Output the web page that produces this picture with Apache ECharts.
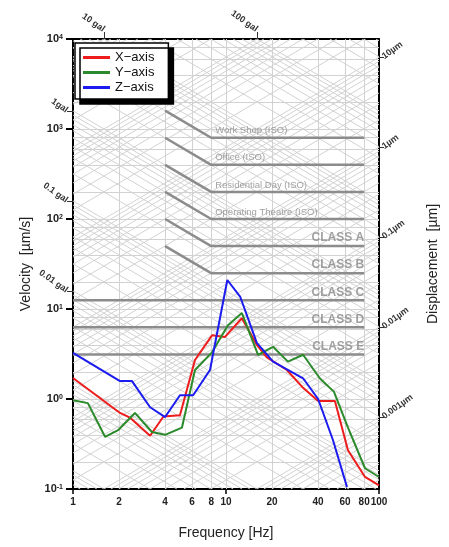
<!DOCTYPE html>
<html>
<head>
<meta charset="utf-8">
<script src="https://cdn.jsdelivr.net/npm/echarts@6/dist/echarts.min.js"></script>
<style>
  html, body { margin: 0; padding: 0; background: #fff; }
  #chart { width: 449px; height: 547px; }
</style>
</head>
<body>
<div id="chart"></div>
<script>
// spectra: [frequency Hz, velocity µm/s]
const xAxisSpec = [[1, 1.71], [2.03, 0.70], [2.36, 0.62], [3.19, 0.39], [3.9, 0.64], [5.0, 0.66], [6.27, 2.71], [8.1, 5.1], [9.85, 4.9], [12.7, 7.9], [15.9, 4.0], [18.5, 2.9], [25, 2.1], [31.9, 1.33], [40, 0.95], [51.5, 0.95], [62.7, 0.27], [81, 0.136], [100, 0.11]]
const yAxisSpec = [[1, 0.97], [1.25, 0.90], [1.62, 0.38], [1.97, 0.45], [2.54, 0.70], [3.28, 0.43], [4.0, 0.40], [5.15, 0.48], [6.27, 2.1], [8.1, 3.3], [10.3, 6.6], [12.7, 9.0], [16.2, 3.1], [20.3, 3.8], [25.4, 2.6], [31.9, 3.1], [41, 1.7], [50.8, 1.2], [62.7, 0.48], [81, 0.17], [100, 0.136]]
const zAxisSpec = [[1, 3.25], [2.03, 1.58], [2.43, 1.58], [3.19, 0.81], [4.0, 0.63], [5.0, 1.1], [6.1, 1.1], [7.86, 2.1], [10.2, 21], [12.4, 13.6], [15.9, 4.2], [20.3, 2.6], [31.9, 1.7], [40, 1.0], [50, 0.35], [61.8, 0.105]]

// vibration criteria (µm/s), flat part from 8 to 80 Hz
const vcNames = ['Work Shop (ISO)', 'Office (ISO)', 'Residential Day (ISO)', 'Operating Theatre (ISO)', 'CLASS A', 'CLASS B', 'CLASS C', 'CLASS D', 'CLASS E']
const vcLevels = [800, 400, 200, 100, 50, 25, 12.5, 6.25, 3.125]
const vcStartHz = [4, 4, 4, 4, 4, 4, 1, 1, 1]

// tick labels
const freqTicks = [1, 2, 4, 6, 8, 10, 20, 40, 60, 80, 100]
const galTop = [10, 100]
const galTopText = ['10 gal', '100 gal']
const galLeft = [1, 0.1, 0.01]
const galLeftText = ['1gal', '0.1 gal', '0.01 gal']
const dispTicks = [10, 1, 0.1, 0.01, 0.001]
const dispText = ['10µm', '1µm', '0.1µm', '0.01µm', '0.001µm']

// background mesh levels
const meshDiag = [1, 2, 3, 4, 5, 6, 7, 8, 9]
const meshHoriz = [1, 2, 4, 6, 8]
const meshFreq = [2, 4, 6, 8, 10, 20, 40, 60, 80]

const lg = Math.log10
const TWO_PI = 2 * Math.PI
const FONT = 'Liberation Sans, Arial, sans-serif'

const toLog = arr => arr.map(p => [lg(p[0]), lg(p[1])])

// tripartite mesh in log space (x = log f, y = log v)
const mesh = []
for (let n = -5; n <= 3; n++) {
  meshDiag.forEach(m => {
    const lev = m * Math.pow(10, n)
    // constant acceleration: v = a / (2 pi f), a in gal -> µm/s2
    const c = lg(lev * 1e4 / TWO_PI)
    let x0 = Math.max(0, c - 4), x1 = Math.min(2, c + 1)
    if (x0 < x1) mesh.push({ coords: [[x0, c - x0], [x1, c - x1]] })
    // constant displacement: v = 2 pi f d
    const k = lg(TWO_PI * lev)
    x0 = Math.max(0, -1 - k); x1 = Math.min(2, 4 - k)
    if (x0 < x1) mesh.push({ coords: [[x0, k + x0], [x1, k + x1]] })
  })
  meshHoriz.forEach(m => {
    const y = lg(m * Math.pow(10, n))
    if (y > -1 && y < 4) mesh.push({ coords: [[0, y], [2, y]] })
  })
}
meshFreq.forEach(f => mesh.push({ coords: [[lg(f), -1], [lg(f), 4]] }))

const vcSeries = vcNames.map((name, i) => {
  const L = vcLevels[i]
  const pts = vcStartHz[i] === 4 ? [[4, 2 * L], [8, L], [80, L]] : [[1, L], [80, L]]
  return {
    type: 'line',
    name,
    data: toLog(pts),
    symbol: 'none',
    silent: true,
    z: 4,
    lineStyle: { color: '#8c8c8c', width: 2.5 }
  }
})

const vcLabels = vcNames.map((name, i) => {
  const iso = i < 4
  return {
    value: [lg(iso ? 8 : 80), lg(vcLevels[i])],
    label: {
      show: true,
      formatter: name,
      position: 'top',
      distance: 2,
      align: iso ? 'left' : 'right',
      offset: iso ? [4, 0] : [0, 0],
      fontSize: iso ? 9.5 : 12,
      fontWeight: iso ? 'normal' : 'bold',
      color: '#8a8a8a',
      fontFamily: FONT
    }
  }
})

const axisBlack = { show: true, onZero: false, lineStyle: { color: '#000', width: 2 } }

const chart = echarts.init(document.getElementById('chart'))
chart.setOption({
  animation: false,
  textStyle: { fontFamily: FONT },
  grid: { left: 73, right: 70, top: 39, bottom: 58 },
  legend: {
    data: ['X−axis', 'Y−axis', 'Z−axis'],
    orient: 'vertical',
    left: 75,
    top: 43,
    padding: [8, 14, 5, 8],
    itemGap: 2,
    itemWidth: 27,
    itemHeight: 3,
    icon: 'rect',
    backgroundColor: '#fff',
    borderColor: '#000',
    borderWidth: 1.5,
    shadowColor: '#000',
    shadowBlur: 0,
    shadowOffsetX: 5,
    shadowOffsetY: 5,
    textStyle: { fontSize: 13, color: '#111', fontFamily: FONT }
  },
  xAxis: [{
    type: 'value',
    min: 0,
    max: 2,
    position: 'bottom',
    name: 'Frequency [Hz]',
    nameLocation: 'middle',
    nameGap: 37,
    nameTextStyle: { fontSize: 14, color: '#222' },
    axisLine: axisBlack,
    splitLine: { show: false },
    axisTick: { show: true, customValues: [0, 1, 2], length: 5, lineStyle: { color: '#000', width: 1.5 } },
    axisLabel: {
      customValues: freqTicks.map(lg),
      formatter: v => String(Math.round(Math.pow(10, v))),
      hideOverlap: false,
      showMinLabel: true,
      showMaxLabel: true,
      margin: 8,
      fontSize: 10,
      fontWeight: 'bold',
      color: '#222'
    }
  }, {
    type: 'value',
    min: 0,
    max: 2,
    position: 'top',
    axisLine: axisBlack,
    splitLine: { show: false },
    axisTick: { show: true, customValues: galTop.map(g => lg(g / TWO_PI)), length: 7, lineStyle: { color: '#333', width: 1 } },
    axisLabel: {
      customValues: galTop.map(g => lg(g / TWO_PI)),
      formatter: v => galTopText[galTop.findIndex(g => Math.abs(lg(g / TWO_PI) - v) < 1e-6)],
      rotate: 35,
      margin: 9,
      fontSize: 9,
      fontWeight: 'bold',
      color: '#333'
    }
  }],
  yAxis: [{
    type: 'value',
    min: -1,
    max: 4,
    interval: 1,
    position: 'left',
    name: 'Velocity  [µm/s]',
    nameLocation: 'middle',
    nameGap: 40,
    nameTextStyle: { fontSize: 14, color: '#222' },
    axisLine: axisBlack,
    splitLine: { show: false },
    axisTick: { show: true, length: 7, lineStyle: { color: '#000', width: 2 } },
    axisLabel: {
      margin: 10,
      formatter: v => '{b|10}{s|' + v + '}',
      rich: {
        b: { fontSize: 11, fontWeight: 'bold', color: '#222', fontFamily: FONT },
        s: { fontSize: 7, fontWeight: 'bold', color: '#222', verticalAlign: 'top', fontFamily: FONT }
      }
    }
  }, {
    type: 'value',
    min: -1,
    max: 4,
    position: 'left',
    axisLine: { show: false, onZero: false },
    splitLine: { show: false },
    axisTick: { show: true, customValues: galLeft.map(g => lg(g * 1e4 / TWO_PI)), length: 6, lineStyle: { color: '#333', width: 1 } },
    axisLabel: {
      customValues: galLeft.map(g => lg(g * 1e4 / TWO_PI)),
      formatter: v => galLeftText[galLeft.findIndex(g => Math.abs(lg(g * 1e4 / TWO_PI) - v) < 1e-6)],
      rotate: -35,
      margin: 6,
      fontSize: 9,
      fontWeight: 'bold',
      color: '#333'
    }
  }, {
    type: 'value',
    min: -1,
    max: 4,
    position: 'right',
    name: 'Displacement  [µm]',
    nameLocation: 'middle',
    nameRotate: 90,
    nameGap: 47,
    nameTextStyle: { fontSize: 14, color: '#222' },
    axisLine: axisBlack,
    splitLine: { show: false },
    axisTick: { show: true, customValues: dispTicks.map(d => lg(TWO_PI * 100 * d)), length: 5, lineStyle: { color: '#333', width: 1 } },
    axisLabel: {
      customValues: dispTicks.map(d => lg(TWO_PI * 100 * d)),
      formatter: v => dispText[dispTicks.findIndex(d => Math.abs(lg(TWO_PI * 100 * d) - v) < 1e-6)],
      rotate: 36,
      margin: 4,
      fontSize: 9,
      fontWeight: 'bold',
      color: '#333'
    }
  }],
  series: [{
    type: 'lines',
    coordinateSystem: 'cartesian2d',
    data: mesh,
    silent: true,
    z: 1,
    lineStyle: { color: '#d2d2d2', width: 1, opacity: 1 }
  },
  ...vcSeries,
  {
    type: 'scatter',
    data: vcLabels,
    symbolSize: 0,
    silent: true,
    z: 5,
    itemStyle: { color: 'transparent' }
  }, {
    type: 'line',
    name: 'X−axis',
    data: toLog(xAxisSpec),
    symbol: 'none',
    z: 10,
    color: '#ee1c1c',
    lineStyle: { width: 2 }
  }, {
    type: 'line',
    name: 'Y−axis',
    data: toLog(yAxisSpec),
    symbol: 'none',
    z: 10,
    color: '#2b8a2b',
    lineStyle: { width: 2 }
  }, {
    type: 'line',
    name: 'Z−axis',
    data: toLog(zAxisSpec),
    symbol: 'none',
    z: 10,
    color: '#1c1cf0',
    lineStyle: { width: 2 }
  }]
})

window.addEventListener('resize', () => {
  chart.resize()
})
</script>
</body>
</html>
